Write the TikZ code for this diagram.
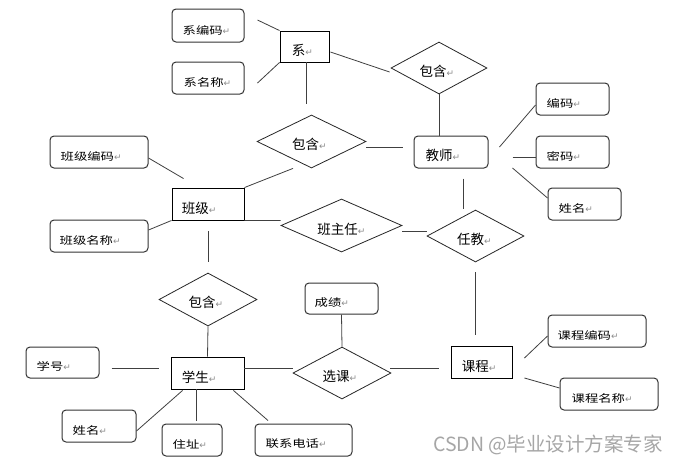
\documentclass[tikz,border=0pt]{standalone}
\usepackage{fontspec}
\usepackage{graphicx}
\usetikzlibrary{shapes.geometric}
\newfontfamily\cjk{Noto Sans CJK SC}
\newfontfamily\djv{DejaVu Sans}
\newcommand\myret{{\djv\fontsize{9}{9}\selectfont\color{black!45}↵}}
\newcommand\atxt[1]{\scalebox{1.27}[1]{\cjk\fontsize{10.5}{12}\selectfont #1}\myret}
\newcommand\etxt[1]{{\cjk\fontsize{13.5}{15}\selectfont #1}\myret}
\tikzset{
  ent/.style={draw=black, line width=0.9pt, inner sep=0pt},
  attr/.style={draw=black!80, line width=1pt, rounded corners=4pt, inner sep=0pt},
  rel/.style={diamond, draw=black!85, line width=0.8pt, inner sep=0pt},
  lnk/.style={draw=black!75, line width=0.8pt},
  lbl/.style={inner sep=0pt, anchor=west},
  rlbl/.style={inner sep=0pt}
}
\begin{document}
\begin{tikzpicture}[x=1pt,y=-1pt]
\useasboundingbox[fill=white] (0,0) rectangle (681,467);
% entities
\node[ent, minimum width=49pt, minimum height=31pt] (xi) at (304.5,46.5) {};
\node[ent, minimum width=72pt, minimum height=32pt] (bj) at (208,204) {};
\node[ent, minimum width=73pt, minimum height=32pt] (xs) at (207.5,373) {};
\node[ent, minimum width=61pt, minimum height=32pt] (kc) at (481.5,362) {};
\node[attr, minimum width=74pt, minimum height=32pt] (js) at (451,152) {};
% attributes
\node[attr, minimum width=72pt, minimum height=33pt] (xbm) at (208,25.5) {};
\node[attr, minimum width=72pt, minimum height=32pt] (xmc) at (208,78) {};
\node[attr, minimum width=98pt, minimum height=32pt] (bjbm) at (99,152) {};
\node[attr, minimum width=98pt, minimum height=32pt] (bjmc) at (99,236) {};
\node[attr, minimum width=73pt, minimum height=32pt] (bm) at (572.5,99) {};
\node[attr, minimum width=73pt, minimum height=32pt] (mm) at (572.5,152) {};
\node[attr, minimum width=73pt, minimum height=32pt] (jxm) at (584.5,204) {};
\node[attr, minimum width=73pt, minimum height=31pt] (cj) at (341.5,298.5) {};
\node[attr, minimum width=73pt, minimum height=31pt] (xh) at (62.5,362.5) {};
\node[attr, minimum width=74pt, minimum height=32pt] (sxm) at (99,426) {};
\node[attr, minimum width=60pt, minimum height=32pt] (zz) at (192,440) {};
\node[attr, minimum width=97pt, minimum height=32pt] (lxdh) at (303.5,440) {};
\node[attr, minimum width=98pt, minimum height=32pt] (kcbm) at (597,331) {};
\node[attr, minimum width=98pt, minimum height=32pt] (kcmc) at (609,394) {};
% relationships
\node[rel, minimum width=96pt, minimum height=52pt] (bh1) at (439,68) {};
\node[rel, minimum width=109pt, minimum height=53pt] (bh2) at (311.5,141.5) {};
\node[rel, minimum width=121pt, minimum height=53pt] (bzr) at (341.5,225.5) {};
\node[rel, minimum width=97pt, minimum height=52pt] (rj) at (475.5,236) {};
\node[rel, minimum width=98pt, minimum height=53pt] (bh3) at (208,299.5) {};
\node[rel, minimum width=98pt, minimum height=52pt] (xk) at (342,373) {};
% entity labels
\node[lbl] (xiT) at ([shift={(12,4)}]xi.west) {\etxt{系}};
\node[lbl] (bjT) at ([shift={(10,4)}]bj.west) {\etxt{班级}};
\node[lbl] (xsT) at ([shift={(11,4)}]xs.west) {\etxt{学生}};
\node[lbl] (kcT) at ([shift={(11,4)}]kc.west) {\etxt{课程}};
\node[lbl] (jsT) at ([shift={(12,3)}]js.west) {\etxt{教师}};
% attribute labels
\node[lbl] (xbmT) at ([shift={(11,5)}]xbm.west) {\atxt{系编码}};
\node[lbl] (xmcT) at ([shift={(12,4)}]xmc.west) {\atxt{系名称}};
\node[lbl] (bjbmT) at ([shift={(11,4)}]bjbm.west) {\atxt{班级编码}};
\node[lbl] (bjmcT) at ([shift={(10,4)}]bjmc.west) {\atxt{班级名称}};
\node[lbl] (bmT) at ([shift={(11,4)}]bm.west) {\atxt{编码}};
\node[lbl] (mmT) at ([shift={(11,4)}]mm.west) {\atxt{密码}};
\node[lbl] (jxmT) at ([shift={(11,4)}]jxm.west) {\atxt{姓名}};
\node[lbl] (cjT) at ([shift={(10,4)}]cj.west) {\atxt{成绩}};
\node[lbl] (xhT) at ([shift={(11,4)}]xh.west) {\atxt{学号}};
\node[lbl] (sxmT) at ([shift={(11,4)}]sxm.west) {\atxt{姓名}};
\node[lbl] (zzT) at ([shift={(11,4)}]zz.west) {\atxt{住址}};
\node[lbl] (lxdhT) at ([shift={(11,4)}]lxdh.west) {\atxt{联系电话}};
\node[lbl] (kcbmT) at ([shift={(10,4)}]kcbm.west) {\atxt{课程编码}};
\node[lbl] (kcmcT) at ([shift={(12,4)}]kcmc.west) {\atxt{课程名称}};
% relationship labels
\node[rlbl] (bh1T) at ([shift={(-2,3)}]bh1) {\etxt{包含}};
\node[rlbl] (bh2T) at ([shift={(-2,3)}]bh2) {\etxt{包含}};
\node[rlbl] (bzrT) at ([shift={(0,4)}]bzr) {\etxt{班主任}};
\node[rlbl] (rjT) at ([shift={(-1,3)}]rj) {\etxt{任教}};
\node[rlbl] (bh3T) at ([shift={(-2,3)}]bh3) {\etxt{包含}};
\node[rlbl] (xkT) at ([shift={(-2,3)}]xk) {\etxt{选课}};
% connectors
\draw[lnk] ([shift={(13,-5.5)}]xbm.east) -- (xi.north west);
\draw[lnk] ([shift={(13,5)}]xmc.east) -- (xi.south west);
\draw[lnk] ([shift={(1,5.5)}]xi.east) -- ([shift={(-1,4)}]bh1.west);
\draw[lnk] ([shift={(1.5,0)}]xi.south) -- ([shift={(-5.5,-11)}]bh2.north);
\draw[lnk] (bh1.south) -- (bh1.south |- js.north);
\draw[lnk] ([shift={(0,5.5)}]bh2.east) -- ([shift={(-11,-5)}]js.west);
\draw[lnk] ([shift={(-18.5,0)}]bh2.south) -- (bj.north east);
\draw[lnk] ([shift={(0,6)}]bjbm.east) -- ([shift={(12,-9)}]bj.north west);
\draw[lnk] ([shift={(0,-6)}]bjmc.east) -- (bj.south west);
\draw[lnk] (bj.south east) -- ([shift={(0,-5)}]bzr.west);
\draw[lnk] ([shift={(0,5.5)}]bzr.east) -- ([shift={(0,-5)}]rj.west);
\draw[lnk] ([shift={(0,11)}]bj.south) -- ([shift={(0,-11)}]bh3.north);
\draw[lnk] ([shift={(12,10)}]js.south) -- ([shift={(-12.5,-1)}]rj.north);
\draw[lnk] ([shift={(0,10)}]rj.south) -- ([shift={(-6,-11)}]kc.north);
\draw[lnk] ([shift={(11,-5)}]js.east) -- ([shift={(0,6)}]bm.west);
\draw[lnk] ([shift={(24,5)}]js.east) -- ([shift={(0,5)}]mm.west);
\draw[lnk] ([shift={(24,16)}]js.east) -- ([shift={(0,-6)}]jxm.west);
\draw[lnk] (bh3.south) -- (xs.north);
\draw[lnk] ([shift={(12,5.5)}]xh.east) -- ([shift={(-12,-5)}]xs.west);
\draw[lnk] ([shift={(0,-5)}]xs.east) -- ([shift={(0,-5)}]xk.west);
\draw[lnk] ([shift={(-1,-5)}]xk.east) -- ([shift={(-12,6)}]kc.west);
\draw[lnk] (cj.south) -- (xk.north);
\draw[lnk] ([shift={(12,1)}]xs.south west) -- ([shift={(0,5)}]sxm.east);
\draw[lnk] ([shift={(-11.5,0)}]xs.south) -- ([shift={(4,-3)}]zz.north);
\draw[lnk] ([shift={(-11,1)}]xs.south east) -- ([shift={(-35.5,-3)}]lxdh.north);
\draw[lnk] ([shift={(12,-4)}]kc.east) -- ([shift={(0,5)}]kcbm.west);
\draw[lnk] ([shift={(12,16)}]kc.east) -- ([shift={(0,-6)}]kcmc.west);
% watermark
\node[inner sep=0pt, text=black!35] (wm) at (548,445) {\cjk\fontsize{19.5}{22}\selectfont CSDN @毕业设计方案专家};
\end{tikzpicture}
\end{document}
